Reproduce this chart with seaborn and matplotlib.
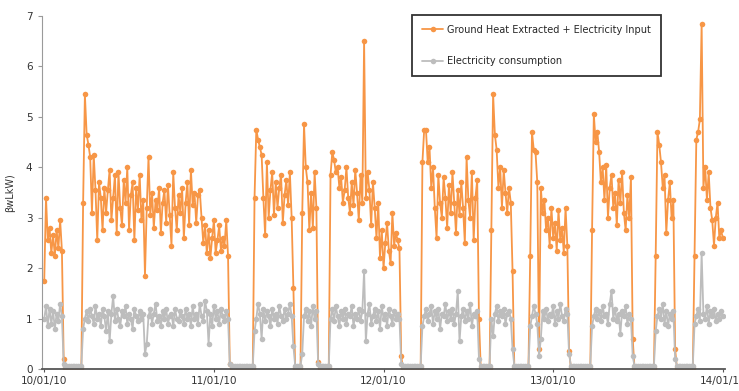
import numpy as np
import pandas as pd
import seaborn as sns
from matplotlib import pyplot as plt

# 15 minute readings, hours counted from 10/01/10 00:00
STEP = 0.25
END_HOUR = 96.0

# level read during the off periods
heat_off = 0.03
elec_off = 0.07

# on periods: start hour, then readings (last one is the drop as the pump stops)
seg_start = [0.0, 5.5, 29.75, 36.5, 40.5, 53.5, 63.25, 68.75, 77.5, 86.5, 92.0]

heat_segs = [
    [1.75, 3.4, 2.55, 2.8, 2.3, 2.65, 2.25, 2.75, 2.4, 2.95, 2.35, 0.2],
    [3.3, 5.45, 4.65, 4.45, 4.2, 3.1, 4.25, 3.55, 2.55, 3.7, 3.4, 2.75, 3.6, 3.1,
     3.55, 3.95, 2.95, 3.4, 3.85, 2.7, 3.9, 3.2, 2.85, 3.75, 3.3, 4.0, 2.75, 3.45,
     3.7, 2.55, 3.6, 3.15, 3.85, 2.95, 3.35, 1.85, 3.2, 4.2, 3.05, 3.5, 2.8, 3.35,
     3.15, 3.6, 2.7, 3.3, 3.55, 2.9, 3.65, 3.05, 2.45, 3.9, 3.2, 2.75, 3.45, 3.1,
     3.6, 2.6, 3.3, 3.7, 2.85, 3.95, 3.25, 3.5, 2.9, 3.45, 3.55, 3.0, 2.5, 2.85,
     2.3, 2.75, 2.2, 2.6, 2.95, 2.3, 2.55, 2.85, 2.35, 2.6, 2.45, 2.95, 2.25, 0.1],
    [3.4, 4.75, 4.55, 4.4, 4.25, 3.4, 2.65, 4.1, 3.0, 3.55, 3.9, 3.05, 3.7, 3.2,
     3.6, 3.85, 2.9, 3.45, 3.75, 3.25, 3.9, 3.0, 1.6],
    [3.1, 4.85, 4.0, 3.7, 2.75, 3.5, 2.8, 3.9, 3.2, 0.15],
    [3.85, 4.3, 4.15, 3.9, 4.0, 3.6, 3.8, 3.3, 3.55, 4.0, 3.4, 3.1, 3.7, 3.25,
     3.95, 3.5, 2.95, 3.85, 3.3, 6.5, 3.4, 3.9, 3.55, 2.85, 3.7, 3.2, 2.6, 3.3,
     2.2, 2.75, 2.0, 2.5, 2.9, 2.35, 2.1, 3.1, 2.45, 2.7, 2.55, 2.4, 0.25],
    [4.1, 4.75, 4.75, 4.1, 4.4, 3.6, 4.0, 3.2, 2.6, 3.85, 3.3, 3.0, 3.8, 3.4,
     2.8, 3.65, 3.1, 3.9, 3.3, 2.7, 3.55, 3.05, 3.7, 3.2, 2.5, 4.2, 3.35, 3.0,
     3.9, 2.55, 3.4, 3.75, 1.0],
    [2.75, 5.45, 4.65, 4.35, 3.6, 4.0, 3.2, 3.95, 3.5, 3.1, 3.6, 3.3, 1.95],
    [2.25, 4.7, 4.35, 4.3, 3.7, 0.4, 3.6, 3.1, 3.35, 2.75, 3.0, 2.45, 3.2, 2.6,
     2.9, 2.35, 3.15, 2.55, 2.8, 2.3, 3.2, 2.45, 0.35],
    [2.75, 5.05, 4.5, 4.7, 4.3, 3.7, 4.0, 3.35, 4.05, 3.0, 3.6, 3.85, 3.2, 3.5,
     2.85, 3.75, 3.3, 3.9, 3.1, 2.75, 3.45, 3.0, 3.8, 0.6],
    [2.25, 4.7, 4.45, 4.1, 3.6, 3.85, 2.7, 3.35, 3.7, 3.0, 3.35, 0.4],
    [2.25, 4.55, 4.7, 4.95, 6.85, 3.6, 4.0, 3.35, 3.9, 3.2, 2.95, 2.45, 3.0, 3.3,
     2.6, 2.75, 2.6],
]

elec_segs = [
    [1.0, 1.25, 0.85, 1.2, 0.9, 1.15, 0.8, 1.1, 0.95, 1.3, 1.05, 0.1],
    [0.8, 1.0, 1.15, 0.95, 1.2, 1.05, 0.9, 1.25, 1.0, 1.1, 0.85, 1.2, 1.05, 0.75,
     1.15, 0.55, 1.1, 1.45, 0.95, 1.2, 1.0, 0.85, 1.15, 1.05, 1.25, 0.9, 1.1, 1.0,
     0.8, 1.2, 1.05, 0.95, 1.15, 1.0, 1.1, 0.3, 0.5, 1.05, 1.2, 0.9, 1.1, 1.3,
     0.95, 1.05, 0.85, 1.15, 1.0, 1.2, 0.9, 1.05, 1.1, 0.85, 1.2, 1.0, 0.95, 1.15,
     1.05, 0.9, 1.2, 1.0, 1.1, 0.85, 1.25, 1.0, 1.1, 0.9, 1.3, 1.05, 0.95, 1.35,
     1.15, 0.5, 1.1, 0.85, 1.25, 1.0, 1.15, 0.9, 1.2, 1.05, 0.95, 1.15, 1.0, 0.1],
    [0.75, 1.0, 1.3, 1.1, 0.6, 1.2, 0.95, 1.15, 1.05, 0.85, 1.2, 1.0, 1.1, 0.9,
     1.25, 1.05, 0.95, 1.2, 1.0, 1.1, 1.3, 1.05, 0.45],
    [0.3, 1.05, 1.2, 0.95, 1.15, 0.85, 1.25, 1.0, 1.15, 0.1],
    [1.0, 1.2, 0.95, 1.25, 1.05, 0.85, 1.15, 1.0, 1.2, 0.9, 1.1, 1.05, 1.25, 0.85,
     1.1, 1.0, 1.2, 0.95, 1.15, 1.95, 0.55, 1.1, 1.3, 0.9, 1.05, 1.2, 0.95, 1.15,
     0.8, 1.25, 1.0, 1.1, 0.85, 1.2, 1.05, 0.9, 1.15, 1.0, 1.1, 1.0, 0.1],
    [0.85, 1.05, 1.2, 0.95, 1.1, 1.25, 0.9, 1.15, 1.0, 1.2, 0.8, 1.1, 1.05, 1.3,
     0.95, 1.15, 1.0, 1.2, 0.9, 1.1, 1.55, 0.55, 1.05, 1.2, 0.95, 1.15, 1.0, 1.3,
     0.85, 1.1, 1.05, 1.15, 0.2],
    [1.0, 0.65, 1.1, 1.25, 0.95, 1.15, 1.05, 1.2, 0.9, 1.1, 1.15, 1.0, 0.4],
    [0.85, 1.05, 1.25, 1.1, 0.9, 0.25, 0.6, 1.15, 1.0, 1.2, 0.95, 1.1, 1.05, 1.25,
     0.9, 1.15, 1.0, 1.3, 1.05, 0.95, 1.2, 1.1, 0.3],
    [0.85, 1.05, 1.2, 1.0, 1.15, 0.95, 1.25, 1.05, 1.1, 0.9, 1.3, 1.55, 1.0, 1.2,
     0.95, 1.1, 0.7, 1.15, 1.05, 1.25, 0.9, 1.1, 1.0, 0.25],
    [0.75, 1.05, 1.2, 1.0, 1.3, 0.9, 1.15, 0.85, 1.1, 1.0, 1.15, 0.2],
    [0.9, 1.05, 1.2, 0.95, 2.3, 1.1, 1.0, 1.25, 0.9, 1.15, 1.05, 1.2, 0.95, 1.1,
     1.0, 1.15, 1.05],
]

day_labels = ['10/01/10', '11/01/10', '12/01/10', '13/01/10', '14/01/10']
heat_name = 'Ground Heat Extracted + Electricity Input'
elec_name = 'Electricity consumption'


def build(segs, off_level):
    n = int(round(END_HOUR / STEP)) + 1
    vals = np.full(n, off_level)
    for start, seg in zip(seg_start, segs):
        i0 = int(round(start / STEP))
        k = min(len(seg), n - i0)
        vals[i0:i0 + k] = seg[:k]
    return np.arange(n) * STEP, vals


hours, heat = build(heat_segs, heat_off)
_, elec = build(elec_segs, elec_off)

df = pd.concat([
    pd.DataFrame({'hour': hours, 'kW': heat, 'series': heat_name}),
    pd.DataFrame({'hour': hours, 'kW': elec, 'series': elec_name}),
])

sns.set_style('ticks')
fig = plt.figure(figsize=(7.39, 3.91), dpi=100)
ax = fig.add_axes([0.057, 0.056, 0.924, 0.903])

sns.lineplot(data=df, x='hour', y='kW', hue='series', estimator=None,
             palette={heat_name: '#F79646', elec_name: '#BDBDBD'},
             marker='o', markersize=4, markeredgewidth=0, linewidth=1.3,
             ax=ax)

ax.set_xlim(-0.3, 96.3)
ax.set_ylim(0, 7)
ax.set_xticks([0, 24, 48, 72, 96])
ax.set_xticklabels(day_labels, fontsize=7.5, color='#333333')
ax.set_yticks(range(8))
ax.set_yticklabels([str(v) for v in range(8)], fontsize=7.5, color='#333333')
ax.set_xlabel('')
ax.set_ylabel('βwLkW)', fontsize=7, color='#333333', labelpad=8)

for side in ['top', 'right']:
    ax.spines[side].set_visible(False)
ax.spines['left'].set_color('#9a9a9a')
ax.spines['bottom'].set_color('#555555')
ax.spines['bottom'].set_linewidth(1.3)
ax.tick_params(axis='y', length=3, color='#9a9a9a', pad=4)
ax.tick_params(axis='x', length=2, color='#555555', pad=3)

handles, labels = ax.get_legend_handles_labels()
leg = ax.legend(handles, labels, loc='upper left', bbox_to_anchor=(0.542, 1.003),
                fontsize=7, frameon=True, fancybox=False, labelspacing=2.2,
                handlelength=2.2, handletextpad=0.4, borderpad=1.0,
                borderaxespad=0)
leg.get_frame().set_edgecolor('black')
leg.get_frame().set_linewidth(1.3)

fig.savefig('out.png', dpi=100)
